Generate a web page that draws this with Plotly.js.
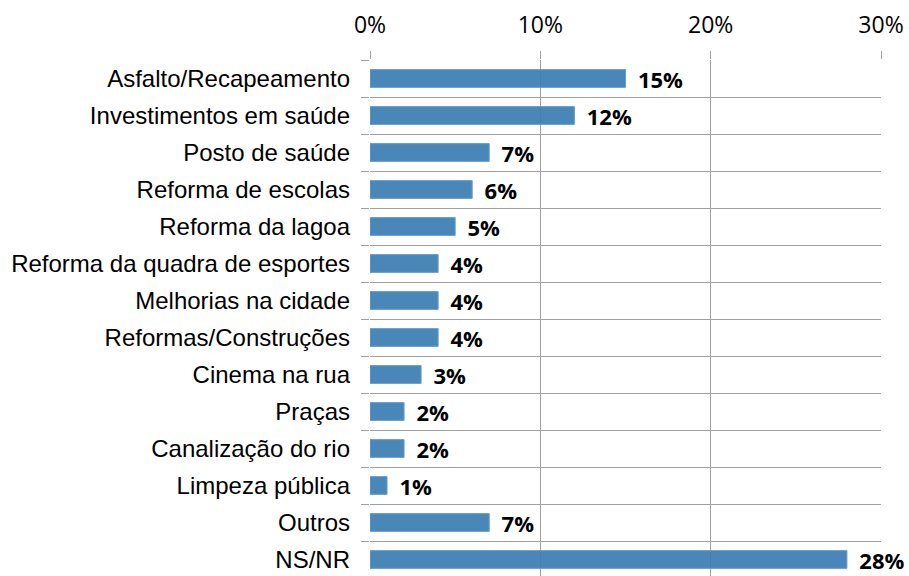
<!DOCTYPE html>
<html>
<head>
<meta charset="utf-8">
<script src="https://cdn.plot.ly/plotly-3.0.1.min.js"></script>
<style>html,body{margin:0;padding:0;background:#fff;}#chart{width:909px;height:576px;}</style>
</head>
<body>
<div id="chart"></div>
<script>
var categories = [
  "Asfalto/Recapeamento",
  "Investimentos em saúde",
  "Posto de saúde",
  "Reforma de escolas",
  "Reforma da lagoa",
  "Reforma da quadra de esportes",
  "Melhorias na cidade",
  "Reformas/Construções",
  "Cinema na rua",
  "Praças",
  "Canalização do rio",
  "Limpeza pública",
  "Outros",
  "NS/NR"
];
var values = [0.15, 0.12, 0.07, 0.06, 0.05, 0.04, 0.04, 0.04, 0.03, 0.02, 0.02, 0.01, 0.07, 0.28];
var xTickVals = [0, 0.1, 0.2, 0.3];
var xTickText = ["0%", "10%", "20%", "30%"];

var trace = {
  type: "bar",
  orientation: "h",
  y: categories,
  x: values,
  width: 0.48,
  marker: {color: "#3d7eb4", opacity: 0.93, line: {color: "#5a98cc", width: 1}},
  texttemplate: "\u00a0\u2009%{x:.0%}",
  textposition: "outside",
  constraintext: "none",
  cliponaxis: false,
  textfont: {family: "Open Sans", size: 22, color: "#000", weight: "bold"},
  hoverinfo: "none"
};

var layout = {
  width: 909,
  height: 576,
  margin: {l: 370, r: 28, t: 60, b: 0, pad: 0},
  paper_bgcolor: "#fff",
  plot_bgcolor: "#fff",
  showlegend: false,
  xaxis: {
    side: "top",
    range: [0, 0.30],
    tickvals: xTickVals,
    ticktext: xTickText,
    ticks: "outside",
    ticklen: 8,
    tickcolor: "#a0a0a0",
    showgrid: true,
    gridcolor: "#a0a0a0",
    gridwidth: 1,
    zeroline: false,
    showline: false,
    ticklabelstandoff: 9,
    tickfont: {family: "Open Sans", size: 23, color: "#000"}
  },
  yaxis: {
    type: "category",
    range: [13.446, -0.5],
    tickson: "boundaries",
    ticks: "outside",
    ticklen: 8,
    tickcolor: "#a0a0a0",
    showgrid: true,
    gridcolor: "#a0a0a0",
    gridwidth: 1,
    zeroline: false,
    showline: false,
    ticklabelstandoff: 19,
    tickfont: {family: "Liberation Sans", size: 24, color: "#000"}
  }
};

Plotly.newPlot("chart", [trace], layout, {displayModeBar: false, staticPlot: true});
</script>
</body>
</html>
